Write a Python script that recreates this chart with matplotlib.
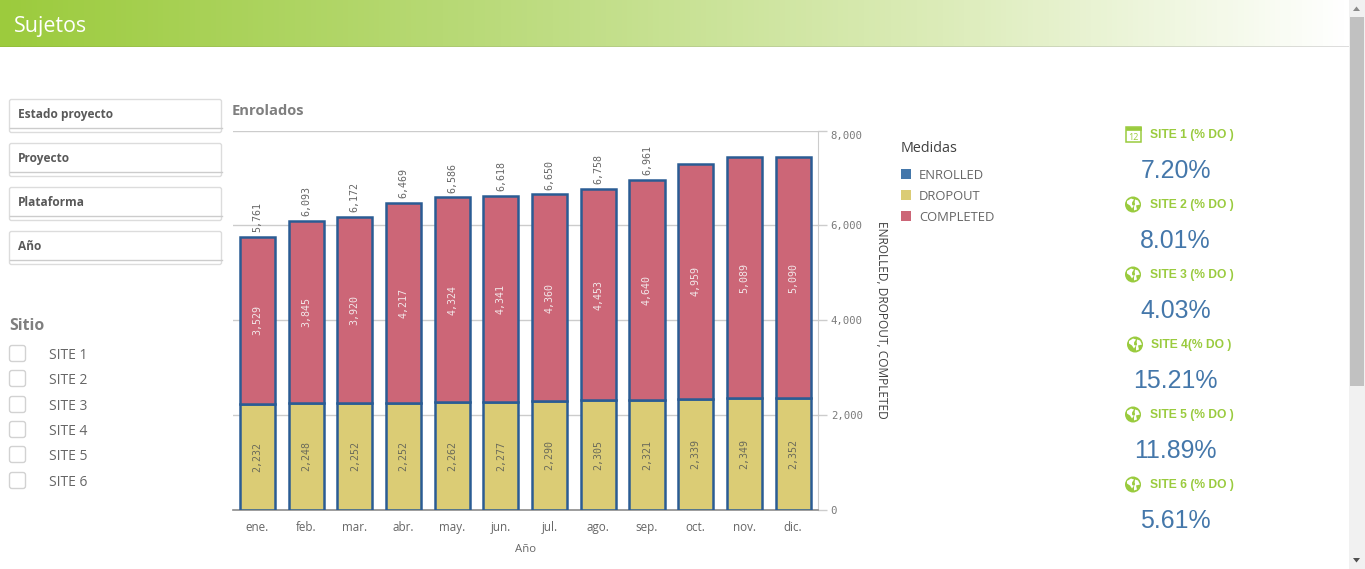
import numpy as np
import matplotlib
matplotlib.use("Agg")
import matplotlib.pyplot as plt
from matplotlib.patches import Rectangle, FancyBboxPatch, Circle, Polygon
from matplotlib.colors import LinearSegmentedColormap

months = ["ene.", "feb.", "mar.", "abr.", "may.", "jun.", "jul.", "ago.", "sep.", "oct.", "nov.", "dic."]
dropout = [2232, 2248, 2252, 2252, 2262, 2277, 2290, 2305, 2321, 2339, 2349, 2352]
completed = [3529, 3845, 3920, 4217, 4324, 4341, 4360, 4453, 4640, 4959, 5089, 5090]
enrolled_labels = [5761, 6093, 6172, 6469, 6586, 6618, 6650, 6758, 6961, None, None, None]
yticks = [0, 2000, 4000, 6000, 8000]
filters = ["Estado proyecto", "Proyecto", "Plataforma", "Año"]
sites = ["SITE 1", "SITE 2", "SITE 3", "SITE 4", "SITE 5", "SITE 6"]
kpi_titles = ["SITE 1 (% DO )", "SITE 2 (% DO )", "SITE 3 (% DO )", "SITE 4(% DO )", "SITE 5 (% DO )", "SITE 6 (% DO )"]
kpi_values = ["7.20%", "8.01%", "4.03%", "15.21%", "11.89%", "5.61%"]
legend_names = ["ENROLLED", "DROPOUT", "COMPLETED"]

C_BLUE = "#4477aa"
C_EDGE = "#2a5c94"
C_YEL = "#dbcc75"
C_RED = "#cc6677"
C_GREEN = "#9acb3e"
SANS = "Open Sans"
MONO = "DejaVu Sans Mono"

W, H = 1365, 569
fig = plt.figure(figsize=(W / 100, H / 100), dpi=100, facecolor="white")

# page layer in pixel coordinates
bg = fig.add_axes([0, 0, 1, 1], zorder=0)
bg.set_xlim(0, W)
bg.set_ylim(H, 0)
bg.axis("off")

cmap = LinearSegmentedColormap.from_list("hdr", [(0, "#9ccb3d"), (0.35, "#b9da78"), (0.7, "#dcecb9"), (1, "#ffffff")])
bg.imshow(np.linspace(0, 1, 256)[None, :], cmap=cmap, extent=(0, 1349, 46, 0), aspect="auto", zorder=1)
bg.set_xlim(0, W)
bg.set_ylim(H, 0)
hline = np.linspace(0, 1, 256)[None, :]
bg.imshow(hline, cmap=LinearSegmentedColormap.from_list("hl", ["#93bf3a", "#dedede"]),
          extent=(0, 1349, 47, 46), aspect="auto", zorder=2)
bg.set_xlim(0, W)
bg.set_ylim(H, 0)
bg.text(14, 26, "Sujetos", color="white", fontsize=15.4, family=SANS, weight="medium", va="center", ha="left", zorder=3)

# scrollbar
bg.add_patch(Rectangle((1349, 0), 16, H, fc="#f1f1f1", ec="none", zorder=2))
bg.add_patch(Rectangle((1350, 17), 14, 369, fc="#c1c1c1", ec="none", zorder=3))
bg.add_patch(Polygon([[1353, 11], [1356.5, 6.5], [1360, 11]], fc="#8a8a8a", ec="none", zorder=3))
bg.add_patch(Polygon([[1353, 558], [1356.5, 562.5], [1360, 558]], fc="#505050", ec="none", zorder=3))

# filter boxes
for i, name in enumerate(filters):
    y0 = 99.5 + 44 * i
    bg.add_patch(FancyBboxPatch((9.5, y0), 212, 33, boxstyle="round,pad=0,rounding_size=2", fc="white", ec="#dcdcdc", lw=1, zorder=2))
    bg.plot([9.5, 221.5], [y0 + 28, y0 + 28], color="#cccccc", lw=1, zorder=3)
    bg.text(18, y0 + 15, name, color="#595959", fontsize=8.6, family=SANS, weight="bold", va="center", ha="left", zorder=3)

# site list
bg.text(9, 325.5, "Sitio", color="#7f7f7f", fontsize=11.4, family=SANS, weight="bold", va="center", ha="left")
site_y = [354, 379, 405, 430, 455, 481]
for name, y in zip(sites, site_y):
    bg.add_patch(FancyBboxPatch((9.5, y - 8.5), 16, 16, boxstyle="round,pad=0,rounding_size=2.5", fc="white", ec="#d2d2d2", lw=1, zorder=2))
    bg.text(49, y + 1, name, color="#666666", fontsize=10, family=SANS, va="center", ha="left", zorder=3)

bg.text(232, 111, "Enrolados", color="#7f7f7f", fontsize=10.6, family=SANS, weight="bold", va="center", ha="left")

# legend
bg.text(901, 148, "Medidas", color="#404040", fontsize=10.4, family=SANS, va="center", ha="left")
for name, col, y in zip(legend_names, [C_BLUE, C_YEL, C_RED], [174, 195, 216]):
    bg.add_patch(Rectangle((901, y - 5), 10, 10, fc=col, ec="none"))
    bg.text(919, y + 1, name, color="#666666", fontsize=9.4, family=SANS, va="center", ha="left")

# KPI column
title_y = [134, 204, 274, 344, 414, 484]
value_y = [170, 240, 310, 380, 450, 520]
title_x = [1150, 1150, 1150, 1151, 1150, 1150]
icon_x = [1133, 1133, 1133, 1135, 1133, 1133]
for i, (t, v) in enumerate(zip(kpi_titles, kpi_values)):
    y = title_y[i]
    ix = icon_x[i]
    if i == 0:
        bg.add_patch(Rectangle((ix - 7.5, y - 7), 15, 15, fc="white", ec=C_GREEN, lw=1.1, zorder=2))
        bg.add_patch(Rectangle((ix - 7.5, y - 7), 15, 3, fc=C_GREEN, ec=C_GREEN, lw=0.5, zorder=2))
        bg.text(ix, y + 3, "12", color=C_GREEN, fontsize=6.5, family=SANS, ha="center", va="center", zorder=3)
    else:
        yy = y + 0.5
        bg.add_patch(Circle((ix, yy), 8, fc=C_GREEN, ec="none", zorder=2))
        bg.add_patch(Polygon([[ix - 6, yy - 3.5], [ix - 2, yy - 6], [ix + 1, yy - 5], [ix - 1, yy - 2], [ix + 1, yy + 1], [ix - 1, yy + 4], [ix - 3, yy + 1], [ix - 6, yy - 1]],
                             fc="white", ec="none", zorder=3))
        bg.add_patch(Polygon([[ix + 2, yy - 5], [ix + 5, yy - 4], [ix + 7, yy], [ix + 3, yy + 1], [ix + 4, yy + 5], [ix + 1, yy + 6], [ix + 1, yy + 3]],
                             fc="white", ec="none", zorder=3))
        bg.add_patch(Circle((ix + 0.5, yy - 0.5), 1.5, fc=C_GREEN, ec="none", zorder=4))
    bg.text(title_x[i], y + 0.5, t, color=C_GREEN, fontsize=8.7, family="Liberation Sans", weight="bold", va="center", ha="left", zorder=3)
    bg.text(1175.5, value_y[i] + 0.5, v, color=C_BLUE, fontsize=17.9, family="Liberation Sans", va="center", ha="center", zorder=3)

# chart
L, R, T, B = 233, 817.5, 130.5, 509.5
ax = fig.add_axes([L / W, 1 - B / H, (R - L) / W, (B - T) / H], zorder=1)
ax.patch.set_alpha(0)
x = np.arange(len(months))
bw = 0.72
ax.bar(x, dropout, bw, color=C_YEL, edgecolor=C_EDGE, linewidth=1.8, zorder=3)
ax.bar(x, completed, bw, bottom=dropout, color=C_RED, edgecolor=C_EDGE, linewidth=1.8, zorder=3)

for i in x:
    ax.text(i, dropout[i] / 2, f"{dropout[i]:,}", rotation=90, ha="center", va="center",
            fontsize=7.2, family=MONO, color="#6b6b5a", zorder=4)
    ax.text(i, dropout[i] + completed[i] / 2, f"{completed[i]:,}", rotation=90, ha="center", va="center",
            fontsize=7.2, family=MONO, color="#f2e6e8", zorder=4)
    if enrolled_labels[i] is not None:
        ax.annotate(f"{enrolled_labels[i]:,}", (i, dropout[i] + completed[i]), xytext=(0, 3.5), textcoords="offset points",
                    rotation=90, ha="center", va="bottom", fontsize=7.2, family=MONO, color="#666666", zorder=4)

ax.set_xlim(-0.5, len(months) - 0.5)
ax.set_ylim(0, 8000)
ax.yaxis.tick_right()
ax.yaxis.set_label_position("right")
ax.set_yticks(yticks)
ax.set_yticklabels([f"{v:,}" for v in yticks], family=MONO, fontsize=7.7, color="#7a7a7a")
ax.get_yticklabels()[-1].set_va("top")
ax.set_xticks(x)
ax.set_xticklabels(months, family=SANS, fontsize=8.4, color="#666666")
ax.tick_params(axis="x", length=0, pad=8.5)
ax.tick_params(axis="y", length=6.5, width=1, color="#cccccc", pad=3)
ax.grid(axis="y", color="#cccccc", lw=1, zorder=0)
ax.set_axisbelow(True)
for s in ["top", "left"]:
    ax.spines[s].set_visible(False)
ax.spines["right"].set_color("#cccccc")
ax.spines["bottom"].set_color("#8c8c8c")
ax.spines["bottom"].set_linewidth(1.2)
ax.set_xlabel("Año", family=SANS, fontsize=8.2, color="#666666", labelpad=7)
ax.set_ylabel("ENROLLED, DROPOUT, COMPLETED", family=SANS, fontsize=8.6, color="#404040", rotation=270, labelpad=18)

fig.savefig("out.png", dpi=100, facecolor="white")
